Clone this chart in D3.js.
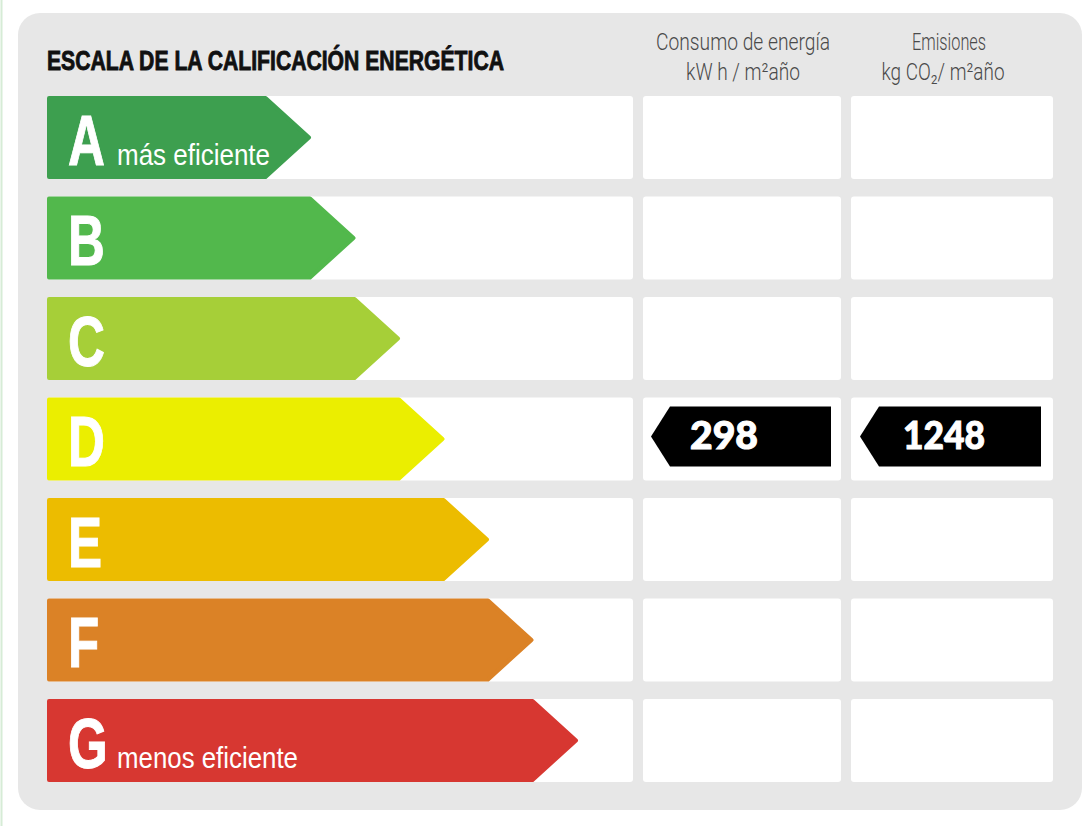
<!DOCTYPE html>
<html>
<head>
<meta charset="utf-8">
<script src="https://cdn.jsdelivr.net/npm/d3@7"></script>
<style>
  html, body { margin: 0; padding: 0; background: #ffffff; }
  svg { display: block; }
</style>
</head>
<body>
<svg id="chart" width="1089" height="826"></svg>
<script>
// ---- data ----
const title = "ESCALA DE LA CALIFICACIÓN ENERGÉTICA";
const categories = ["A", "B", "C", "D", "E", "F", "G"];
const categoryColors = ["#3d9f4f", "#52b84c", "#a6cf38", "#ebee00", "#ecbc00", "#db8226", "#d73731"];
const categoryNotes = { A: "más eficiente", G: "menos eficiente" };
const columnHeaders = [
  ["Consumo de energía", "kW h / m²año"],
  ["Emisiones", "kg CO₂/ m²año"]
];
const selectedRating = "D";
const energyConsumption = 298;   // kW h / m²año
const co2Emissions = 1248;       // kg CO2 / m²año
const values = [energyConsumption, co2Emissions];

// ---- drawing ----
const svg = d3.select("#chart");

// faint green page edge
svg.append("line").attr("x1", 1.5).attr("x2", 1.5).attr("y1", 0).attr("y2", 826)
  .attr("stroke", "#d6ecd6").attr("stroke-width", 2);

// panel
svg.append("rect").attr("x", 18).attr("y", 13).attr("width", 1064).attr("height", 797)
  .attr("rx", 22).attr("fill", "#e7e7e7");

const y = d3.scaleBand().domain(categories).range([96, 782]).paddingInner(0.174).paddingOuter(0);
const idx = d3.scaleOrdinal().domain(categories).range(d3.range(categories.length));
const tipX = d3.scaleLinear().domain([0, categories.length - 1]).range([311, 578]);
const color = d3.scaleOrdinal().domain(categories).range(categoryColors);

const columns = [
  { x0: 47, x1: 633 },
  { x0: 643, x1: 841 },
  { x0: 851, x1: 1053 }
];

function condense(sel, factor) {
  sel.each(function () {
    const w = this.getComputedTextLength();
    d3.select(this).attr("textLength", w * factor).attr("lengthAdjust", "spacingAndGlyphs");
  });
}

// title
svg.append("text").attr("x", 47).attr("y", 70)
  .attr("font-family", "'Liberation Sans', Arial, sans-serif").attr("font-weight", "bold")
  .attr("font-size", 28).attr("fill", "#111").attr("stroke", "#111").attr("stroke-width", 0.9)
  .text(title)
  .attr("textLength", 457).attr("lengthAdjust", "spacingAndGlyphs");

// headers
const headerCenters = [743, 943];
const headerWidths = [[174, 114], [74, 123]];
columnHeaders.forEach((lines, i) => {
  lines.forEach((line, j) => {
    svg.append("text")
      .attr("x", headerCenters[i] + (i === 1 && j === 0 ? 6 : 0))
      .attr("y", j === 0 ? 50 : 80)
      .attr("text-anchor", "middle")
      .attr("font-family", "Roboto, 'Liberation Sans', sans-serif")
      .attr("font-weight", 300).attr("font-size", 23.5).attr("fill", "#4a4a4a")
      .text(line)
      .attr("textLength", headerWidths[i][j]).attr("lengthAdjust", "spacingAndGlyphs");
  });
});

// rows
const rows = svg.selectAll("g.row").data(categories).join("g").attr("class", "row")
  .attr("transform", d => `translate(0,${y(d)})`);

const h = y.bandwidth();

rows.selectAll("rect.cell").data(() => columns).join("rect").attr("class", "cell")
  .attr("x", c => c.x0).attr("width", c => c.x1 - c.x0)
  .attr("y", 0).attr("height", h).attr("rx", 3).attr("fill", "#ffffff");

// arrows
const inset = 2;
rows.append("path")
  .attr("d", d => {
    const x0 = 47 + inset, tip = tipX(idx(d)) - inset;
    const top = inset, bot = h - inset, mid = h / 2;
    const shoulder = tip - (mid - inset) * 1.1;
    return `M${x0},${top}L${shoulder},${top}L${tip},${mid}L${shoulder},${bot}L${x0},${bot}Z`;
  })
  .attr("fill", d => color(d)).attr("stroke", d => color(d))
  .attr("stroke-width", inset * 2).attr("stroke-linejoin", "round");

// letters
rows.append("text").attr("x", 68).attr("y", 69)
  .attr("font-family", "'Liberation Sans', Arial, sans-serif").attr("font-weight", "bold")
  .attr("font-size", 71).attr("fill", "#ffffff").attr("stroke", "#ffffff").attr("stroke-width", 1)
  .text(d => d)
  .call(condense, 0.72);

rows.filter(d => categoryNotes[d]).append("text")
  .attr("x", 117).attr("y", 69)
  .attr("font-family", "'Liberation Sans', Arial, sans-serif")
  .attr("font-size", 29).attr("fill", "#ffffff").text(d => categoryNotes[d])
  .attr("textLength", d => d === "A" ? 153 : 181).attr("lengthAdjust", "spacingAndGlyphs");

// value markers on selected row
const sel = rows.filter(d => d === selectedRating);
const markers = [
  { x0: 651, x1: 831, textX: 690, textW: 68 },
  { x0: 860, x1: 1041, textX: 903, textW: 82 }
];
const markerY0 = 9, markerY1 = 69;
sel.selectAll("path.marker").data(markers).join("path").attr("class", "marker")
  .attr("d", m => {
    const mid = (markerY0 + markerY1) / 2;
    return `M${m.x0},${mid}L${m.x0 + 19},${markerY0}L${m.x1},${markerY0}L${m.x1},${markerY1}L${m.x0 + 19},${markerY1}Z`;
  })
  .attr("fill", "#000000");

sel.selectAll("text.value").data(markers.map((m, i) => ({ m, v: values[i] }))).join("text")
  .attr("class", "value")
  .attr("x", d => d.m.textX).attr("y", 52)
  .attr("font-family", "Lato, 'DejaVu Sans', sans-serif").attr("font-weight", 900)
  .attr("font-size", 38).attr("fill", "#ffffff").attr("stroke", "#ffffff").attr("stroke-width", 1)
  .text(d => d.v)
  .attr("textLength", d => d.m.textW).attr("lengthAdjust", "spacingAndGlyphs");
</script>
</body>
</html>
